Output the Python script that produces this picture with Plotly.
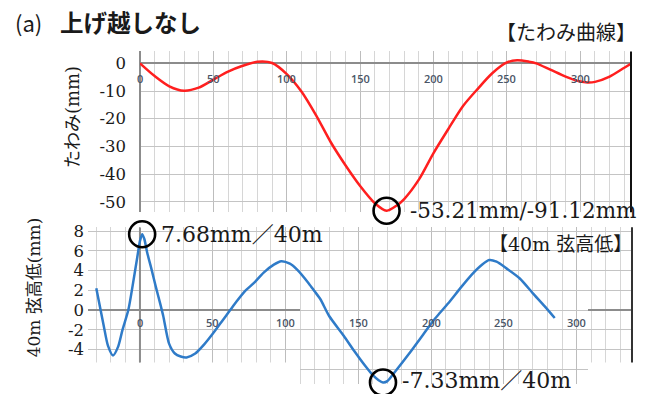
import plotly.graph_objects as go

# Canvas size in CSS pixels; helpers convert pixel positions to paper fractions
W, H = 646, 394


def px(x):
    return x / W


def py(y):
    return 1 - y / H


# Pixel box and value range of the lower (chord) plot area
B_LEFT, B_RIGHT, B_TOP, B_BOTTOM = 88, 632, 225, 384
B_XRANGE = [-35.7, 338.1]
B_YRANGE = [-7.5, 8.4]


def bx(x):
    """Pixel column -> chord-chart x value."""
    return B_XRANGE[0] + (x - B_LEFT) * (B_XRANGE[1] - B_XRANGE[0]) / (B_RIGHT - B_LEFT)


def by(y):
    """Pixel row -> chord-chart y value."""
    return B_YRANGE[0] + (B_BOTTOM - y) * (B_YRANGE[1] - B_YRANGE[0]) / (B_BOTTOM - B_TOP)


# Deflection curve (mm) along the span (m)
deflection_x = [0, 10, 20, 30, 40, 50, 60, 70, 80, 90, 100, 110, 120, 130, 140, 150,
                160, 168, 175, 180, 190, 200, 210, 220, 230, 240, 250, 257, 265, 270,
                280, 290, 300, 305, 310, 320, 330, 335]
deflection_mm = [0, -4.6, -8.3, -9.9, -8.8, -5.9, -3.0, -0.9, 0.55, 0.1, -3.9, -10.2,
                 -18.8, -28.5, -36.8, -44.3, -50.5, -53.21, -51.3, -49.0, -42.0, -32.4,
                 -23.8, -15.5, -9.3, -3.6, 0.3, 1.1, 0.6, 0.0, -2.4, -4.8, -6.6, -6.9,
                 -6.7, -4.8, -1.6, 0]

# 40 m chord versine (mm)
chord_x = [-30, -25, -22, -18.5, -15, -12, -8, -5, -2, 0, 1.5, 3, 5, 8, 11, 14, 16, 20,
           24, 28, 32, 38, 44, 50, 56, 62, 66, 72, 78, 85, 92, 97, 103, 108, 116, 120,
           124, 130, 140, 147, 155, 160, 164, 167, 170, 175, 185, 195, 202, 206, 213,
           220, 228, 235, 240, 245, 252, 261, 270, 278, 285]
chord_mm = [2.2, -1.5, -3.6, -4.6, -3.7, -2.0, 0.0, 2.5, 5.2, 7.0, 7.68, 7.2, 5.8, 4.1,
            2.3, 0.6, -0.6, -3.4, -4.4, -4.7, -4.8, -4.4, -3.5, -2.4, -1.2, 0.0, 0.8,
            1.9, 2.7, 3.8, 4.6, 4.95, 4.7, 4.1, 2.7, 1.9, 1.1, -0.6, -2.6, -4.1, -5.7,
            -6.6, -7.1, -7.33, -7.2, -6.3, -4.4, -2.4, -1.0, -0.3, 0.9, 2.2, 3.6, 4.6,
            5.07, 4.9, 4.2, 3.2, 1.7, 0.4, -0.8]

# Tick labels
x_ticks = [0, 50, 100, 150, 200, 250, 300]
deflection_y_ticks = [0, -10, -20, -30, -40, -50]
chord_y_ticks = [8, 6, 4, 2, 0, -2, -4]

SERIF = "DejaVu Serif, Noto Sans CJK JP, serif"
JP = "Noto Sans CJK JP, sans-serif"
TICKFONT = "Open Sans, Lato, sans-serif"

RED = "#ff1f1f"
BLUE = "#2f7bc8"
GRID_MAJOR = "#bdbdbd"
GRID_MINOR = "#d6d6d6"
AXIS_GRAY = "#8c8c8c"
INK = "#1a1a1a"
TICK_INK = "#4a5566"

# Extremes marked with circles
i_dmin = deflection_mm.index(min(deflection_mm))
i_cmax = chord_mm.index(max(chord_mm))
i_cmin = chord_mm.index(min(chord_mm))

fig = go.Figure()

fig.add_trace(go.Scatter(x=deflection_x, y=deflection_mm, mode="lines",
                         line=dict(color=RED, width=2.5, shape="spline", smoothing=0.8),
                         xaxis="x", yaxis="y", hoverinfo="skip"))
fig.add_trace(go.Scatter(x=chord_x, y=chord_mm, mode="lines",
                         line=dict(color=BLUE, width=2.5, shape="spline", smoothing=0.7),
                         xaxis="x2", yaxis="y2", hoverinfo="skip"))

circle = dict(symbol="circle-open", size=26, color="black", line=dict(width=2.6, color="black"))
fig.add_trace(go.Scatter(x=[deflection_x[i_dmin]], y=[deflection_mm[i_dmin]], mode="markers",
                         marker=circle, cliponaxis=False, xaxis="x", yaxis="y", hoverinfo="skip"))
fig.add_trace(go.Scatter(x=[chord_x[i_cmax], chord_x[i_cmin]],
                         y=[chord_mm[i_cmax], chord_mm[i_cmin]], mode="markers",
                         marker=circle, cliponaxis=False, xaxis="x2", yaxis="y2", hoverinfo="skip"))

common_x = dict(showticklabels=False, ticks="", showline=False, tick0=0, dtick=50,
                showgrid=True, gridcolor=GRID_MAJOR, gridwidth=1,
                minor=dict(dtick=10, tick0=0, showgrid=True, gridcolor=GRID_MINOR, gridwidth=1))

fig.update_layout(
    width=W, height=H, autosize=False,
    margin=dict(l=0, r=0, t=0, b=0),
    paper_bgcolor="white", plot_bgcolor="white",
    showlegend=False,
    xaxis=dict(domain=[px(140), px(631.5)], range=[0, 334.9], anchor="y",
               zeroline=True, zerolinecolor=AXIS_GRAY, zerolinewidth=2, **common_x),
    yaxis=dict(domain=[py(210), py(47)], range=[-53.8, 4.3], anchor="x",
               tickmode="array", tickvals=deflection_y_ticks,
               ticktext=[str(v) for v in deflection_y_ticks],
               tickfont=dict(family=SERIF, size=16.5, color=INK),
               ticks="", ticklabelstandoff=13, showline=False,
               showgrid=True, gridcolor="#c4c4c4", gridwidth=1,
               zeroline=True, zerolinecolor=AXIS_GRAY, zerolinewidth=2),
    xaxis2=dict(domain=[px(B_LEFT), px(B_RIGHT)], range=B_XRANGE, anchor="y2",
                zeroline=False, **common_x),
    yaxis2=dict(domain=[py(B_BOTTOM), py(B_TOP)], range=B_YRANGE, anchor="x2",
                tickmode="array", tickvals=chord_y_ticks,
                ticktext=[str(v) for v in chord_y_ticks],
                tickfont=dict(family=SERIF, size=16.5, color=INK),
                ticks="", ticklabelstandoff=3, showline=False,
                showgrid=True, gridcolor="#c4c4c4", gridwidth=1,
                minor=dict(dtick=2, tick0=0, showgrid=True, gridcolor="#c4c4c4"),
                zeroline=False),
)

shapes = []
# Blank strips below the lower grid on either side of the bottom inset
for x0, x1 in [(86, 300), (588, 634)]:
    shapes.append(dict(type="rect", xref="x2", yref="y2",
                       x0=bx(x0), x1=bx(x1), y0=by(388), y1=by(362),
                       fillcolor="white", line=dict(width=0), layer="between"))
# Zero line of the chord chart, in two pieces
for x0, x1 in [(88, 300), (588, 632)]:
    shapes.append(dict(type="line", xref="x2", yref="y2", x0=bx(x0), x1=bx(x1),
                       y0=0, y1=0, line=dict(color=AXIS_GRAY, width=2), layer="between"))
# Vertical axis line at x = 0 in the chord chart
shapes.append(dict(type="line", xref="x2", yref="y2", x0=0, x1=0,
                   y0=by(362), y1=B_YRANGE[1], line=dict(color=AXIS_GRAY, width=2),
                   layer="between"))
# Right-hand frame edges
shapes.append(dict(type="line", xref="paper", yref="paper", x0=px(631), x1=px(631),
                   y0=py(210), y1=py(47), line=dict(color="#111111", width=2)))
shapes.append(dict(type="line", xref="paper", yref="paper", x0=px(632), x1=px(632),
                   y0=py(362), y1=py(225), line=dict(color="#333333", width=2)))
fig.update_layout(shapes=shapes)

ann = []
# X tick labels sitting just under the zero line
for t in x_ticks:
    ann.append(dict(x=t, y=0, xref="x", yref="y", text=str(t), showarrow=False,
                    xanchor="center", yanchor="middle", yshift=-15.5,
                    font=dict(family=TICKFONT, size=11, color=TICK_INK, weight=600)))
    ann.append(dict(x=t, y=0, xref="x2", yref="y2", text=str(t), showarrow=False,
                    xanchor="center", yanchor="middle", yshift=-12,
                    font=dict(family=TICKFONT, size=11, color=TICK_INK, weight=600)))

# Title and panel labels
ann.append(dict(x=px(13), y=py(17), xref="paper", yref="paper",
                xanchor="left", yanchor="middle",
                text="(a)", showarrow=False,
                font=dict(family=JP, size=22, color=INK)))
ann.append(dict(x=px(58), y=py(17), xref="paper", yref="paper",
                xanchor="left", yanchor="middle",
                text="<b>上げ越しなし</b>", showarrow=False,
                font=dict(family=JP, size=23.5, color=INK)))
ann.append(dict(x=px(638), y=py(27), xref="paper", yref="paper",
                xanchor="right", yanchor="middle",
                text="【たわみ曲線】", showarrow=False,
                font=dict(family=JP, size=20, color=INK)))
ann.append(dict(x=px(634), y=py(242), xref="paper", yref="paper",
                xanchor="right", yanchor="middle",
                text="【40m 弦高低】", showarrow=False,
                font=dict(family=SERIF, size=19, color=INK)))

# Axis titles
ann.append(dict(x=px(72.5), y=py(114), xref="paper", yref="paper", textangle=-90,
                xanchor="center", yanchor="middle",
                text="たわみ(mm)", showarrow=False,
                font=dict(family=SERIF, size=18, color=INK)))
ann.append(dict(x=px(34), y=py(286), xref="paper", yref="paper", textangle=-90,
                xanchor="center", yanchor="middle",
                text="40m 弦高低(mm)", showarrow=False,
                font=dict(family=SERIF, size=17, color=INK)))

# Extreme value labels
ann.append(dict(x=deflection_x[i_dmin], y=deflection_mm[i_dmin], xref="x", yref="y",
                xanchor="left", yanchor="middle", xshift=21, showarrow=False,
                text=f"{deflection_mm[i_dmin]:.2f}mm/-91.12mm",
                font=dict(family=SERIF, size=21.5, color=INK)))
ann.append(dict(x=chord_x[i_cmax], y=chord_mm[i_cmax], xref="x2", yref="y2",
                xanchor="left", yanchor="middle", xshift=17, showarrow=False,
                text=f"{chord_mm[i_cmax]:.2f}mm／40m",
                font=dict(family=SERIF, size=22, color=INK)))
ann.append(dict(x=chord_x[i_cmin], y=chord_mm[i_cmin], xref="x2", yref="y2",
                xanchor="left", yanchor="middle", xshift=17, yshift=2, showarrow=False,
                text=f"{chord_mm[i_cmin]:.2f}mm／40m",
                font=dict(family=SERIF, size=22, color=INK)))
fig.update_layout(annotations=ann)

fig.write_html("out.html")
